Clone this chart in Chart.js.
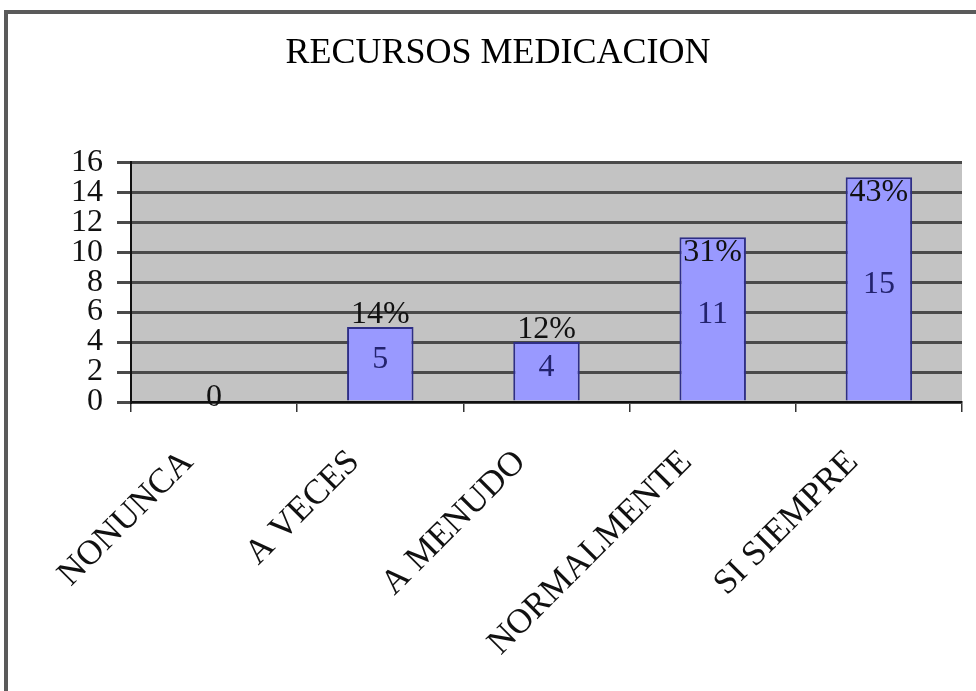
<!DOCTYPE html>
<html>
<head>
<meta charset="utf-8">
<script src="https://cdn.jsdelivr.net/npm/chart.js@4.4.1/dist/chart.umd.min.js"></script>
<style>
  html, body { margin: 0; padding: 0; background: #fff; }
  #wrap { position: relative; width: 976px; height: 691px; overflow: hidden; }
  #frame { position: absolute; left: 4px; top: 10px; right: -10px; bottom: -10px;
           border-top: 4px solid #5a5a5a; border-left: 4px solid #5a5a5a; }
  #ch { position: absolute; left: 0; top: 0; }
</style>
</head>
<body>
<div id="wrap">
  <div id="frame"></div>
  <canvas id="ch" width="976" height="691"></canvas>
</div>
<script>
/* ---------- datos ---------- */
const categorias = ["NONUNCA", "A VECES", "A MENUDO", "NORMALMENTE", "SI SIEMPRE"];
const valores = [0, 5, 4, 11, 15];
const porcentajes = ["", "14%", "12%", "31%", "43%"];
const ticksY = [0, 2, 4, 6, 8, 10, 12, 14, 16];

const SERIF = "'Liberation Serif', 'Times New Roman', serif";
Chart.defaults.font.family = SERIF;
Chart.defaults.color = "#000";

/* fondo gris del área del gráfico */
const fondo = {
  id: "fondo",
  beforeDraw(ch) {
    const { left, top, width, height } = ch.chartArea;
    const g = ch.ctx;
    g.save();
    g.fillStyle = "#c3c3c3";
    g.fillRect(left, top, width, height);
    g.restore();
  },
};

/* etiquetas: valor al centro de la barra, porcentaje en la parte superior */
const etiquetas = {
  id: "etiquetas",
  afterDatasetsDraw(ch) {
    const g = ch.ctx;
    const meta = ch.getDatasetMeta(0);
    const mid = (ch.chartArea.top + ch.chartArea.bottom) / 2;
    g.save();
    g.textAlign = "center";
    meta.data.forEach((bar, i) => {
      const { x, y, base } = bar.getProps(["x", "y", "base"], true);
      g.font = "32px " + SERIF;
      g.fillStyle = valores[i] === 0 ? "#111" : "#23236e";
      g.textBaseline = "middle";
      g.fillText(String(valores[i]), x, (y + base) / 2 - 4);
      if (porcentajes[i]) {
        g.fillStyle = "#111";
        if (y < mid) { g.textBaseline = "top"; g.fillText(porcentajes[i], x, y - 1); }
        else { g.textBaseline = "bottom"; g.fillText(porcentajes[i], x, y + 4); }
      }
    });
    g.restore();
  },
};

new Chart(document.getElementById("ch"), {
  type: "bar",
  data: {
    labels: categorias,
    datasets: [{
      data: valores,
      backgroundColor: "#9999ff",
      borderColor: "#2e2e86",
      borderWidth: 2,
      barPercentage: 0.4,
      categoryPercentage: 1,
    }],
  },
  options: {
    responsive: false,
    devicePixelRatio: 1,
    animation: false,
    layout: { padding: { left: 34, right: 14, top: 0, bottom: 0 } },
    plugins: {
      legend: { display: false },
      tooltip: { enabled: false },
      title: {
        display: true,
        text: "RECURSOS MEDICACION",
        color: "#000",
        font: { family: SERIF, size: 36, weight: "normal" },
        padding: { top: 32, bottom: 87 },
      },
    },
    scales: {
      x: {
        grid: { offset: true, drawOnChartArea: false, drawTicks: true, tickLength: 10, color: "#333", lineWidth: 1.5 },
        border: { display: true, color: "#111", width: 2 },
        ticks: {
          autoSkip: false, minRotation: 45, maxRotation: 45,
          padding: 30, labelOffset: -26,
          color: "#111", font: { family: SERIF, size: 35 },
        },
        afterFit(s) { s.height = 289; },
      },
      y: {
        min: 0, max: 16,
        afterBuildTicks(s) { s.ticks = ticksY.map((v) => ({ value: v })); },
        grid: { color: "#4a4a4a", lineWidth: 3, tickLength: 14, drawTicks: true },
        border: { display: true, color: "#111", width: 2 },
        ticks: { autoSkip: false, padding: 14, color: "#111", font: { family: SERIF, size: 32 } },
        afterFit(s) { s.width = 97; },
      },
    },
  },
  plugins: [fondo, etiquetas],
});
</script>
</body>
</html>
